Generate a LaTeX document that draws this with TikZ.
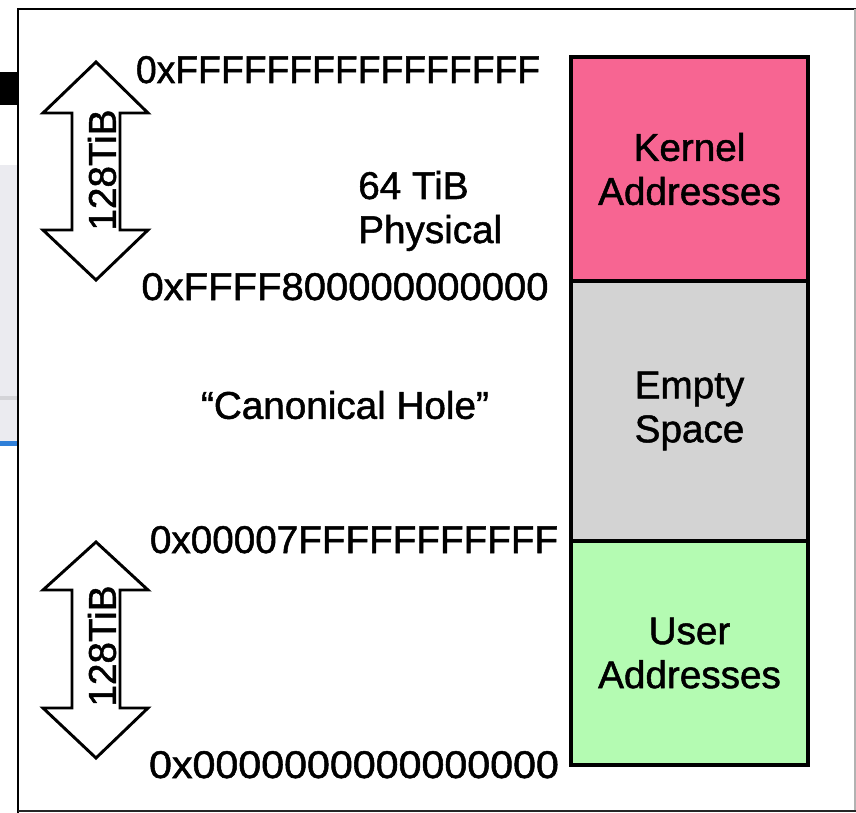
\documentclass[tikz,border=0pt]{standalone}
\usepackage{fontspec}
\setmainfont{Liberation Sans}[UprightFeatures={FakeBold=1.3}]
\usetikzlibrary{fit}
\definecolor{kernelpink}{HTML}{F76592}
\definecolor{emptygray}{HTML}{D3D3D3}
\definecolor{usergreen}{HTML}{B4FBB2}
\definecolor{sidegray}{HTML}{EBEBF0}
\definecolor{sideline}{HTML}{D4D4D8}
\definecolor{sideblue}{HTML}{2F7FD8}
\tikzset{
  lbl/.style={font=\fontsize{29}{33}\selectfont, inner sep=0pt, text=black},
  memblock/.style={draw=black, line width=2.4pt, inner sep=0pt, font=\fontsize{29}{33}\selectfont, align=center},
  bigarrow/.style={draw=black, line width=2.2pt, fill=white, line join=miter},
}
\begin{document}
\begin{tikzpicture}[x=0.75pt, y=-0.75pt]
\useasboundingbox (0,0) rectangle (856,813);
% outside-frame screenshot remnants
\fill[black] (0,72) rectangle (17,105);
\fill[sidegray] (0,165) rectangle (17,441);
\fill[sideline] (0,396) rectangle (17,400);
\fill[sideblue] (0,441) rectangle (17,446);
% frame
\fill[white] (17,8) rectangle (856,813);
\draw[line width=2.2pt, black] (18,813) -- (18,9) -- (856,9);
\draw[line width=0.8pt, gray!60] (855,9) -- (855,811);
\draw[line width=1.5pt, black!85] (18,811) -- (856,811);
% memory blocks
\node[memblock, fill=kernelpink, fit={(571,57)(808,281)}] (kernel) {};
\node[memblock, fill=emptygray, fit={(571,281)(808,541)}] (empty) {};
\node[memblock, fill=usergreen, fit={(571,541)(808,765)}] (user) {};
\node[lbl, align=center] (kernellbl) at (kernel.center) {Kernel\\Addresses};
\node[lbl, align=center] (emptylbl) at (empty.center) {Empty\\Space};
\node[lbl, align=center] (userlbl) at (user.center) {User\\Addresses};
% addresses
\node[lbl, anchor=base] (a1) at (338,83) {\scalebox{0.965}[1]{0xFFFFFFFFFFFFFFFF}};
\node[lbl, anchor=base] (a2) at (345,300) {\scalebox{1.035}[1]{0xFFFF800000000000}};
\node[lbl, anchor=base] (a3) at (354,553) {0x00007FFFFFFFFFFF};
\node[lbl, anchor=base] (a4) at (354,778) {\scalebox{1.065}[1]{0x0000000000000000}};
% other labels
\node[lbl, anchor=base west, align=left] (phys) at (358,243) {64 TiB\\Physical};
\node[lbl] (hole) at (345,405) {``Canonical Hole''};
% double arrows
\draw[bigarrow] (96,62) -- (148,113) -- (120,113) -- (120,230) -- (148,230) -- (96,280)
  -- (43,230) -- (72,230) -- (72,113) -- (43,113) -- cycle;
\draw[bigarrow] (96,542) -- (148,590) -- (120,590) -- (120,708) -- (148,708) -- (96,758)
  -- (43,708) -- (72,708) -- (72,590) -- (43,590) -- cycle;
\node[lbl, rotate=90] (t1) at (102,170) {128TiB};
\node[lbl, rotate=90] (t2) at (102,646) {128TiB};
\end{tikzpicture}
\end{document}
